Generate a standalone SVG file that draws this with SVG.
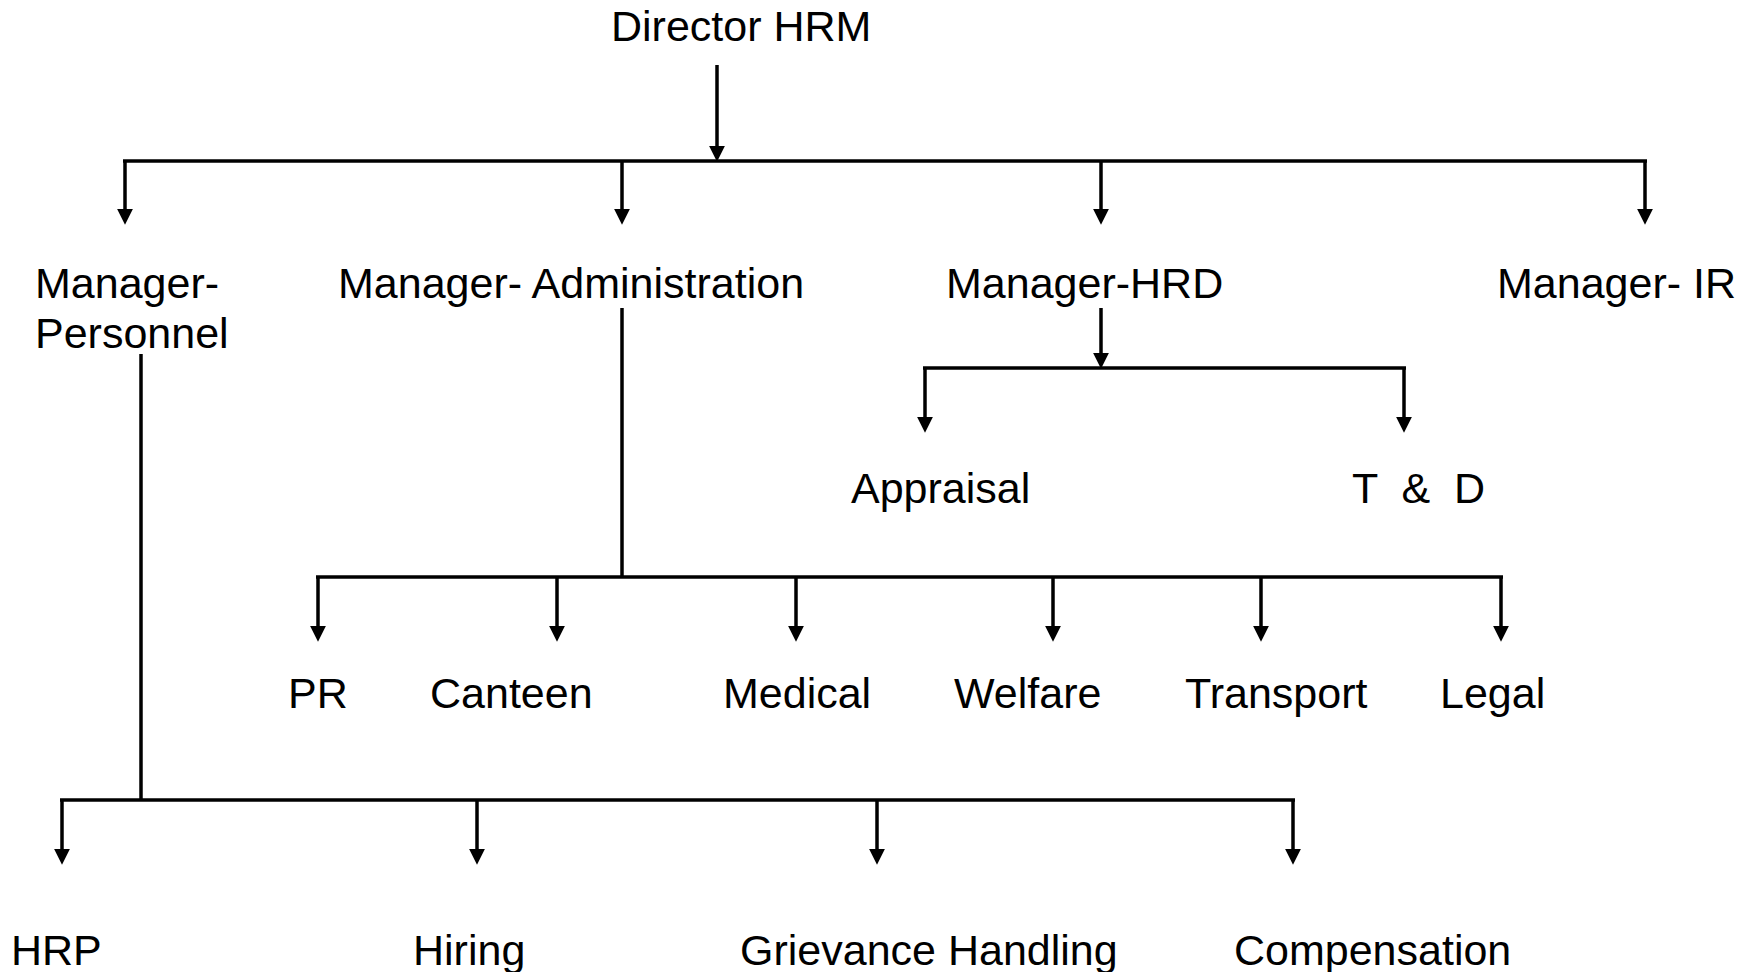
<svg xmlns="http://www.w3.org/2000/svg" width="1756" height="972" viewBox="0 0 1756 972">
<style>
  text { font-family: "Liberation Sans", Arial, sans-serif; font-size: 43px; fill: #000; white-space: pre; }
  .c line, .c polyline { stroke: #000; stroke-width: 3.5; fill: none; }
  .c .a { marker-end: url(#ah); }
</style>
<defs>
  <marker id="ah" viewBox="0 0 10 10" refX="7" refY="5" markerWidth="16" markerHeight="16" markerUnits="userSpaceOnUse" orient="auto">
    <path d="M0,0 L10,5 L0,10 z" fill="#000"/>
  </marker>
</defs>
<rect width="1756" height="972" fill="#fff"/>
<g id="connectors" class="c">
  <line class="a" x1="717" y1="65" x2="717" y2="157"/>
  <line x1="123" y1="161" x2="1647" y2="161"/>
  <line class="a" x1="125" y1="161" x2="125" y2="220"/>
  <line class="a" x1="622" y1="161" x2="622" y2="220"/>
  <line class="a" x1="1101" y1="161" x2="1101" y2="220"/>
  <line class="a" x1="1645" y1="161" x2="1645" y2="220"/>

  <line class="a" x1="1101" y1="308" x2="1101" y2="364"/>
  <line x1="923" y1="368" x2="1406" y2="368"/>
  <line class="a" x1="925" y1="368" x2="925" y2="428"/>
  <line class="a" x1="1404" y1="368" x2="1404" y2="428"/>

  <line x1="622" y1="308" x2="622" y2="577"/>
  <line x1="316" y1="577" x2="1503" y2="577"/>
  <line class="a" x1="318" y1="577" x2="318" y2="637"/>
  <line class="a" x1="557" y1="577" x2="557" y2="637"/>
  <line class="a" x1="796" y1="577" x2="796" y2="637"/>
  <line class="a" x1="1053" y1="577" x2="1053" y2="637"/>
  <line class="a" x1="1261" y1="577" x2="1261" y2="637"/>
  <line class="a" x1="1501" y1="577" x2="1501" y2="637"/>

  <line x1="141" y1="354" x2="141" y2="800"/>
  <line x1="60" y1="800" x2="1295" y2="800"/>
  <line class="a" x1="62" y1="800" x2="62" y2="860"/>
  <line class="a" x1="477" y1="800" x2="477" y2="860"/>
  <line class="a" x1="877" y1="800" x2="877" y2="860"/>
  <line class="a" x1="1293" y1="800" x2="1293" y2="860"/>
</g>
<g id="director"><text x="611" y="41">Director HRM</text></g>
<g id="mgr-personnel"><text x="35" y="298">Manager-</text><text x="35" y="348">Personnel</text></g>
<g id="mgr-admin"><text x="338" y="298">Manager- Administration</text></g>
<g id="mgr-hrd"><text x="946" y="298">Manager-HRD</text></g>
<g id="mgr-ir"><text x="1497" y="298">Manager- IR</text></g>
<g id="appraisal"><text x="851" y="503">Appraisal</text></g>
<g id="td"><text x="1352" y="503">T  &amp;  D</text></g>
<g id="pr"><text x="288" y="708">PR</text></g>
<g id="canteen"><text x="430" y="708">Canteen</text></g>
<g id="medical"><text x="723" y="708">Medical</text></g>
<g id="welfare"><text x="954" y="708">Welfare</text></g>
<g id="transport"><text x="1185" y="708">Transport</text></g>
<g id="legal"><text x="1440" y="708">Legal</text></g>
<g id="hrp"><text x="11" y="965">HRP</text></g>
<g id="hiring"><text x="413" y="965">Hiring</text></g>
<g id="grievance"><text x="740" y="965">Grievance Handling</text></g>
<g id="compensation"><text x="1234" y="965">Compensation</text></g>
</svg>
